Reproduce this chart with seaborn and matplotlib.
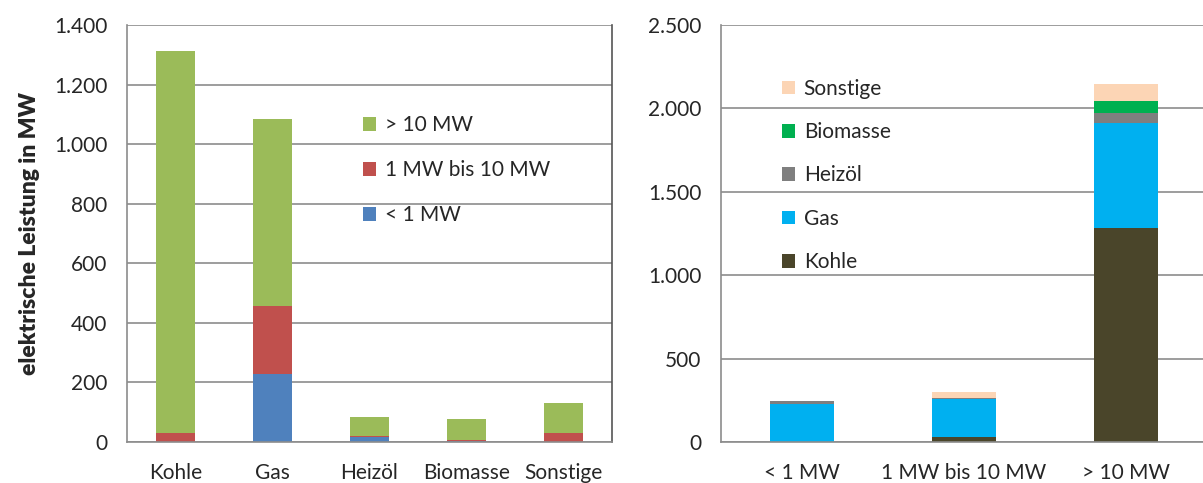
import numpy as np
import pandas as pd
import matplotlib.pyplot as plt
import seaborn as sns
from matplotlib.ticker import FuncFormatter, FixedLocator

sns.set_style("white")
plt.rcParams['font.family'] = ['Lato', 'DejaVu Sans']

# ============================================================
# DATEN
# ============================================================
energietraeger = ["Kohle", "Gas", "Heizöl", "Biomasse", "Sonstige"]
klassen = ["< 1 MW", "1 MW bis 10 MW", "> 10 MW"]

kl_unter1 = [0, 228, 16, 2, 0]       # < 1 MW
kl_1bis10 = [30, 229, 3, 4, 31]      # 1 MW bis 10 MW
kl_ueber10 = [1283, 628, 64, 70, 101]  # > 10 MW

farben_links = {"> 10 MW": "#9BBB59", "1 MW bis 10 MW": "#C0504D", "< 1 MW": "#4F81BD"}
farben_rechts = {"Sonstige": "#FCD5B5", "Biomasse": "#00B050", "Heizöl": "#7F7F7F",
                 "Gas": "#00B0F0", "Kohle": "#4A452A"}

df = pd.DataFrame({"Energieträger": energietraeger, "< 1 MW": kl_unter1,
                   "1 MW bis 10 MW": kl_1bis10, "> 10 MW": kl_ueber10})

grid_col = "#8C8C8C"
fs = 15


def de_format(v, pos):
    return f"{int(v):,}".replace(",", ".")


def achse_stil(ax, ymax, ystep, n):
    ax.set_ylim(0, ymax)
    ax.set_xlim(-0.5, n - 0.5)
    ax.yaxis.set_major_locator(FixedLocator(np.arange(0, ymax + 1, ystep)))
    ax.yaxis.set_major_formatter(FuncFormatter(de_format))
    ax.grid(axis="y", color=grid_col, linewidth=1.2)
    ax.set_axisbelow(True)
    ax.xaxis.set_minor_locator(FixedLocator(np.arange(-0.5, n, 1.0)))
    ax.tick_params(axis="x", which="major", length=0, pad=15, labelsize=fs)
    ax.tick_params(axis="x", which="minor", length=7, color=grid_col, width=1.2)
    ax.tick_params(axis="y", length=6, color=grid_col, width=1.2, labelsize=fs, pad=8)
    for s in ["left", "bottom"]:
        ax.spines[s].set_color(grid_col)
        ax.spines[s].set_linewidth(1.2)
    ax.spines["top"].set_visible(False)
    ax.set_xlabel("")
    ax.set_ylabel("")


leg_kw = dict(loc="upper left", frameon=False, fontsize=fs, borderaxespad=0,
              handlelength=0.65, handleheight=0.65, handletextpad=0.4)

fig = plt.figure(figsize=(12.03, 4.83), dpi=100)
ax1 = fig.add_axes([127 / 1203, 41 / 483, 485 / 1203, 417 / 483])
ax2 = fig.add_axes([721 / 1203, 41 / 483, 486 / 1203, 417 / 483])

# ============================================================
# LINKS: nach Energieträger, gestapelt nach Leistungsklasse
# ============================================================
stapel = ["< 1 MW", "1 MW bis 10 MW", "> 10 MW"]
kum = df[stapel].cumsum(axis=1)
for k in stapel[::-1]:
    sns.barplot(x=df["Energieträger"], y=kum[k], color=farben_links[k], saturation=1,
                width=0.4, ax=ax1, label=k, linewidth=0)
achse_stil(ax1, 1400, 200, len(energietraeger))
ax1.spines["right"].set_color("#555555")
ax1.spines["right"].set_linewidth(1.2)
ax1.set_ylabel("elektrische Leistung in MW", fontsize=16.5, fontweight="heavy", labelpad=10)
ax1.legend(bbox_to_anchor=(0.469, 0.803), labelspacing=1.19, **leg_kw)

# ============================================================
# RECHTS: nach Leistungsklasse, gestapelt nach Energieträger
# ============================================================
df2 = df.set_index("Energieträger")[klassen].T
kum2 = df2[energietraeger].cumsum(axis=1)
for e in energietraeger[::-1]:
    sns.barplot(x=klassen, y=kum2[e].values, color=farben_rechts[e], saturation=1,
                width=0.4, ax=ax2, label=e, linewidth=0)
achse_stil(ax2, 2500, 500, len(klassen))
ax2.spines["right"].set_visible(False)
ax2.legend(bbox_to_anchor=(0.108, 0.891), labelspacing=1.12, **leg_kw)

plt.savefig("out.png", dpi=100)
